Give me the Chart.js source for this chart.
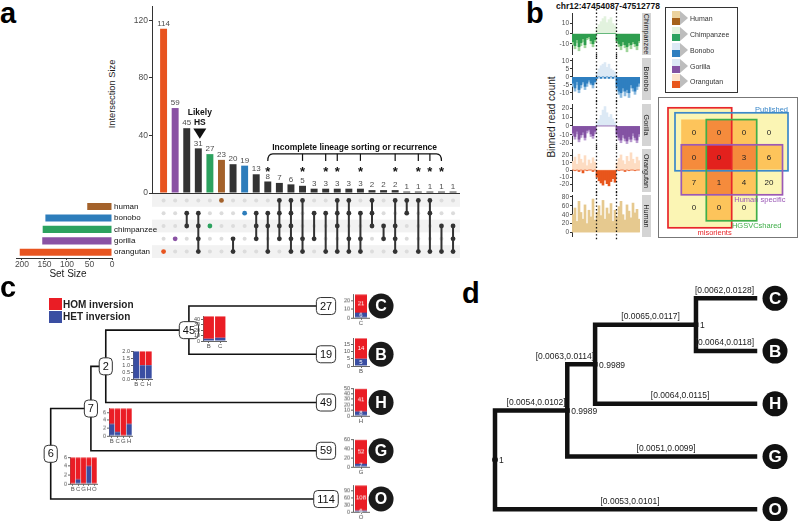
<!DOCTYPE html>
<html><head><meta charset="utf-8">
<script src="https://cdn.jsdelivr.net/npm/chart.js@4.4.1/dist/chart.umd.min.js"></script>
<style>
html,body{margin:0;padding:0;background:#fff;}
#root{position:relative;width:800px;height:521px;overflow:hidden;background:#fff;font-family:'Liberation Sans',Arial,sans-serif;}
#root canvas{position:absolute;}
.t{position:absolute;white-space:nowrap;line-height:1;}
.r{position:absolute;box-sizing:border-box;}
</style></head><body><div id="root"></div>
<script>
// ================= DATA =================
// panel a (UpSet)
const setNames = ['human','bonobo','chimpanzee','gorilla','orangutan'];
const setLetters = ['H','B','C','G','O'];
const setSizes = [55,148,154,155,205];
const intersectionSizes = [114,59,45,31,27,23,20,19,13,8,7,6,5,3,3,3,3,3,2,2,2,1,1,1,1,1];
const intersectionMembers = ['O','G','BC','BCGO','C','H','GO','B','BCG','BCO','HBCG','HBCGO','HGO','BG','BO','HBCO','HBGO','BGO','HBC','CG','HCGO','HB','HO','HBO','CO','CGO'];
const ilsFlags = [0,0,0,0,0,0,0,0,0,1,0,0,1,0,1,1,0,1,0,0,1,0,1,1,1,0];
const likelyHSIndex = 3;
const intersectionTicks = [0,40,80,120];
const setSizeTicks = [0,50,100,150,200];

// panel b tracks (binned read counts)
const trackSpecies = ['Chimpanzee','Bonobo','Gorilla','Orangutan','Human'];
const chimpLight  = [-11,-15,-9,-17,-12,-8,-14,-6,-5,-10,-13,-8, 6,9,12,15,17,11,14,16,10,8, -9,-13,-16,-11,-14,-18,-12,-15,-10,-13,-16,-9];
const chimpDark   = [-8,-12,-6,-13,-9,-5,-11,-4,-3,-7,-10,-6, 0,0,0,0,0,0,0,0,0,0, -7,-10,-12,-8,-11,-13,-9,-11,-8,-10,-12,-7];
const bonoboLight = [-6,-9,-5,-10,-7,-4,-8,-6,-3,-5,-7,-4, 3,5,7,8,9,6,8,5,4,3, -8,-11,-13,-9,-12,-10,-13,-7,-9,-11,-8,-6];
const bonoboDark  = [-4,-7,-3,-8,-5,-3,-6,-4,-2,-4,-5,-3, -1,0,-1,0,-1,0,-1,0,-1,0, -6,-9,-10,-7,-9,-8,-10,-5,-7,-9,-6,-4];
const gorillaLight= [-11,-15,-9,-18,-13,-10,-16,-8,-6,-12,-14,-9, 3,7,12,18,22,15,10,13,8,4, -12,-16,-19,-13,-17,-20,-15,-18,-11,-16,-19,-12];
const gorillaDark = [-8,-12,-6,-15,-10,-7,-13,-5,-4,-9,-11,-6, 0,0,0,0,0,0,0,0,0,0, -9,-13,-16,-10,-14,-17,-12,-15,-8,-13,-16,-9];
const orangLight  = [12,18,8,22,15,10,20,6,14,9,17,11, 0,0,0,0,0,0,0,0,0,0, 10,16,21,13,8,19,12,24,15,9,18,13];
const orangDark   = [0,-1,0,-2,0,-4,0,-1,0,0,-2,0, -10,-15,-18,-21,-14,-19,-22,-16,-12,-17, 0,-1,0,0,-2,0,-1,0,0,-1,0,0];
const humanLight  = [40,55,25,70,45,30,62,20,50,35,75,28, 45,60,38,72,30,55,42,65,25,50, 35,58,70,40,28,62,48,33,66,44,52,30];
const inversionBins = [12,22];
const trackRanges = [[-20.3,19.7],[-14,11.3],[-21.7,23.9],[-29.3,28],[-7.9,82.1]];
const trackTicks = [[-10,0,10],[-10,-5,0,5,10],[-20,-10,0,10,20],[-20,-10,0,10,20],[0,20,40,60,80]];

// panel b heatmap of overlapping call sets
const hmValues = [[0,0,0,0],[0,0,3,6],[7,1,4,20],[0,0,0,null]];
const hmSetNames = ['misorients','Published','HGSVCshared','Human specific'];
const hmSetCols = [[0,1],[0,3],[1,2],[0,3]];
const hmSetRows = [[0,3],[0,1],[0,3],[1,2]];

// panel c tree
const treeLeaves = ['C','B','H','G','O'];
const cLeafCounts = [27,19,49,59,114];
const cLeafHOM = [21,14,41,52,108];
const cLeafHET = [6,5,8,7,6];
const cLeafMax = [27,19,50,60,114];
const cLeafTicks = [[0,10,20],[0,5,10,15],[0,10,20,30,40,50],[0,20,40,60],[0,30,60,90]];
const cNodeNames = ['n45','n2','n7','n6'];
const cNodeChildren = [['C','B'],['n45','H'],['n2','G'],['n7','O']];
const cNodeCounts = [45,2,7,6];
const cNodeDepths = [5.02,2.0,1.46,0];
const cNodeCats = [['B','C'],['B','C','H'],['B','C','G','H'],['B','C','G','H','O']];
const cNodeHET = [[4,6],[2,1,1],[3,1,0,3],[0,1,0,4,0]];
const cNodeHOM = [[41,39],[0,1,1],[4,6,7,4],[6,5,6,2,6]];
const cNodeMax = [45,2,7,6];
const cNodeTicks = [[0,10,20,30,40],[0,0.5,1,1.5,2],[0,2,4,6],[0,2,4,6]];

// panel d tree
const dNodeNames = ['d3','d2','d1','d0'];
const dNodeChildren = [['C','B'],['d3','H'],['d2','G'],['d1','O']];
const dNodeDepths = [7.73,3.85,2.78,0];
const dNodeSupport = ['1','0.9989','0.9989','1'];
const dBranchNames = ['C','B','d3','H','d2','G','d1','O'];
const dBranchCI = ['[0.0062,0.0128]','[0.0064,0.0118]','[0.0065,0.0117]','[0.0064,0.0115]','[0.0063,0.0114]','[0.0051,0.0099]','[0.0054,0.0102]','[0.0053,0.0101]'];

// ================= STYLE / HELPERS =================
const FONT = "'Liberation Sans', Arial, sans-serif";
Chart.defaults.font.family = FONT;
Chart.defaults.plugins.legend.display = false;
Chart.defaults.plugins.tooltip.enabled = false;
Chart.defaults.animation = false;
Chart.defaults.events = [];
const root = document.getElementById('root');
const setColorList = ['#a4622b','#2d7dbb','#2ca25f','#8a52a4','#e8541f'];
const DARK = '#333333';
const RED = '#ea1d25', BLUE = '#3a4ea2';

function mk(left, top, w, h, cfg) {
  const cv = document.createElement('canvas');
  cv.width = w; cv.height = h;
  cv.style.left = left + 'px'; cv.style.top = top + 'px';
  cv.style.width = w + 'px'; cv.style.height = h + 'px';
  root.appendChild(cv);
  cfg.options = cfg.options || {};
  cfg.options.responsive = false;
  cfg.options.maintainAspectRatio = false;
  cfg.options.devicePixelRatio = 1;
  cfg.options.layout = Object.assign({padding: 0}, cfg.options.layout || {}, {autoPadding: false});
  return new Chart(cv, cfg);
}
function T(text, x, y, o) {
  o = o || {};
  const d = document.createElement('div'); d.className = 't'; d.textContent = text;
  d.style.fontSize = (o.size || 10) + 'px';
  if (o.bold) d.style.fontWeight = 'bold';
  d.style.color = o.color || '#1a1a1a';
  d.style.left = x + 'px'; d.style.top = y + 'px';
  const ax = o.align === 'center' ? '-50%' : o.align === 'right' ? '-100%' : '0';
  d.style.transform = o.rot ? `translate(-50%,-50%) rotate(${o.rot}deg)` : `translate(${ax},-50%)`;
  root.appendChild(d); return d;
}
function R(x, y, w, h, css) {
  const d = document.createElement('div'); d.className = 'r';
  d.style.cssText += `left:${x}px;top:${y}px;width:${w}px;height:${h}px;` + (css || '');
  root.appendChild(d); return d;
}
const setTicks = list => s => { s.ticks = list.map(v => ({value: v})); };
const fixW = w => s => { s.width = w; };
const fixH = h => s => { s.height = h; };

// ================= PANEL A =================
const barColors = intersectionMembers.map(m => m.length === 1 ? setColorList[setLetters.indexOf(m)] : DARK);
const XMAX = 26.6;

const upsetAnnot = {id: 'ua', afterDatasetsDraw(ch) {
  const xs = ch.scales.x, ys = ch.scales.y, ctx = ch.ctx, meta = ch.getDatasetMeta(0);
  ctx.save();
  ctx.font = '8px ' + FONT; ctx.fillStyle = '#4d4d4d'; ctx.textAlign = 'center'; ctx.textBaseline = 'bottom';
  meta.data.forEach((b, i) => ctx.fillText(String(intersectionSizes[i]), b.x, b.y - 1));
  const hx = xs.getPixelForValue(likelyHSIndex + 1) + 1.5;
  ctx.fillStyle = '#111'; ctx.font = 'bold 8.5px ' + FONT; ctx.textBaseline = 'middle';
  ctx.fillText('Likely', hx, ys.getPixelForValue(55.6));
  ctx.fillText('HS', hx, ys.getPixelForValue(48.7));
  ctx.beginPath();
  ctx.moveTo(hx - 6.5, ys.getPixelForValue(44.8)); ctx.lineTo(hx + 6.5, ys.getPixelForValue(44.8));
  ctx.lineTo(hx, ys.getPixelForValue(37.7)); ctx.closePath(); ctx.fill();
  const ils = ilsFlags.map((f, i) => f ? i : -1).filter(i => i >= 0);
  const px = ils.map(i => xs.getPixelForValue(i + 1));
  const x0 = px[0], x1 = px[px.length - 1];
  const yb = ys.getPixelForValue(27.2), yd = ys.getPixelForValue(22.3);
  ctx.strokeStyle = '#111'; ctx.lineWidth = 1.2;
  ctx.beginPath(); ctx.moveTo(x0, yd); ctx.quadraticCurveTo(x0, yb, x0 + 5, yb);
  ctx.lineTo(x1 - 5, yb); ctx.quadraticCurveTo(x1, yb, x1, yd); ctx.stroke();
  px.slice(1, -1).forEach(x => { ctx.beginPath(); ctx.moveTo(x, yb); ctx.lineTo(x, yd); ctx.stroke(); });
  ctx.fillText('Incomplete lineage sorting or recurrence', (x0 + x1) / 2, ys.getPixelForValue(31.8));
  ctx.font = 'bold 13px ' + FONT; ctx.textBaseline = 'alphabetic';
  px.forEach(x => ctx.fillText('*', x, ys.getPixelForValue(16.7) + 7.5));
  ctx.restore();
}};

mk(124, 0, 336, 201, {
  type: 'bar',
  data: {datasets: [{data: intersectionSizes.map((v, i) => ({x: i + 1, y: v})), backgroundColor: barColors, categoryPercentage: 1, barPercentage: 0.6}]},
  options: {
    layout: {padding: {top: 1}},
    scales: {
      x: {type: 'linear', min: 0, max: XMAX, offset: false, ticks: {display: false}, grid: {display: false, drawTicks: false}, border: {display: true, color: '#333'}, afterFit: fixH(8)},
      y: {min: 0, max: 129.8, afterBuildTicks: setTicks(intersectionTicks), ticks: {font: {size: 8.5}, color: '#4d4d4d', padding: 1, autoSkip: false},
          grid: {drawOnChartArea: false, tickLength: 3, color: '#333'}, border: {color: '#333'}, afterFit: fixW(28)}
    }
  },
  plugins: [upsetAnnot]
});

// matrix
const memberPts = [], memberCols = [], grayPts = [], linkPts = [];
intersectionMembers.forEach((m, i) => {
  const rows = [];
  setLetters.forEach((L, r) => {
    if (m.includes(L)) { memberPts.push({x: i + 1, y: r}); memberCols.push(m.length === 1 ? setColorList[r] : DARK); rows.push(r); }
    else grayPts.push({x: i + 1, y: r});
  });
  if (rows.length > 1) { linkPts.push({x: i + 1, y: Math.min(...rows)}, {x: i + 1, y: Math.max(...rows)}, {x: i + 1, y: null}); }
});
const stripes = {id: 'st', beforeDatasetsDraw(ch) {
  const ys = ch.scales.y, a = ch.chartArea, ctx = ch.ctx; ctx.save(); ctx.fillStyle = '#f2f2f2';
  setNames.forEach((_, r) => { if (r % 2 === 0) { const y0 = ys.getPixelForValue(r - 0.5), y1 = ys.getPixelForValue(r + 0.5); ctx.fillRect(a.left, Math.min(y0, y1), a.right - a.left, Math.abs(y1 - y0)); } });
  ctx.restore();
}};
mk(152, 194, 308, 64, {
  type: 'scatter',
  data: {datasets: [
    {data: memberPts, pointBackgroundColor: memberCols, pointBorderWidth: 0, pointRadius: 2.4, clip: false},
    {data: linkPts, showLine: true, spanGaps: false, borderColor: DARK, borderWidth: 2, pointRadius: 0, clip: false},
    {data: grayPts, pointBackgroundColor: '#dcdcdc', pointBorderWidth: 0, pointRadius: 2, clip: false}
  ]},
  options: {scales: {x: {type: 'linear', min: 0, max: XMAX, display: false}, y: {type: 'linear', min: -0.5, max: 4.5, reverse: true, display: false}}},
  plugins: [stripes]
});

// set size
mk(8, 194, 160, 80, {
  type: 'bar',
  data: {labels: setNames, datasets: [{data: setSizes, backgroundColor: setColorList, categoryPercentage: 1, barPercentage: 0.62}]},
  options: {
    indexAxis: 'y',
    layout: {padding: {left: 8}},
    scales: {
      x: {min: 0, max: 213.3, reverse: true, afterBuildTicks: setTicks(setSizeTicks), ticks: {font: {size: 8.5}, color: '#4d4d4d', padding: 0, maxRotation: 0, autoSkip: false},
          grid: {drawOnChartArea: false, tickLength: 2, color: '#333'}, border: {color: '#333'}, afterFit: fixH(16)},
      y: {position: 'right', ticks: {font: {size: 8}, color: '#111', padding: 2, autoSkip: false}, grid: {display: false, drawTicks: false}, border: {display: false}, afterFit: fixW(56)}
    }
  }
});

T('a', 0, 13, {size: 29, bold: true, color: '#000'});
T('Intersection Size', 113, 94, {size: 9.3, rot: -90});
T('Set Size', 68, 273.5, {size: 10, align: 'center'});

// ================= PANEL B =================
T('b', 526, 13, {size: 29, bold: true, color: '#000'});
T('chr12:47454087-47512778', 608, 6, {size: 8.5, bold: true, align: 'center', color: '#111'});
T('Binned read count', 552, 117, {size: 10, rot: -90});

const trackRects = [[13,55],[58,100],[104,146],[149,192],[195,237]];
const trackLightData = [chimpLight, bonoboLight, gorillaLight, orangLight, humanLight];
const trackDarkData = [chimpDark, bonoboDark, gorillaDark, orangDark, null];
const trackFlankCol = ['#9fd59a','#8dbbe0','#b99ad0','#fddcc2','#e6c98f'];
const trackMidCol = ['#e2f2de','#dce9f5','#dce9f5','#fddcc2','#e6c98f'];
const trackDarkCol = ['#2f9e4f','#2f7fc0','#8453a3','#e8561c','#a6611a'];
const dotted = {id: 'dot', afterDatasetsDraw(ch) {
  const xs = ch.scales.x, ctx = ch.ctx; ctx.save(); ctx.setLineDash([1.4, 2.2]); ctx.lineWidth = 1.3; ctx.strokeStyle = '#111';
  inversionBins.forEach(b => { const x = Math.round((xs.getPixelForValue(b - 1) + xs.getPixelForValue(b)) / 2) + 0.5; ctx.beginPath(); ctx.moveTo(x, 0); ctx.lineTo(x, ch.height); ctx.stroke(); });
  ctx.restore();
}};
trackSpecies.forEach((sp, k) => {
  const [t, b] = trackRects[k];
  const light = trackLightData[k];
  const bins = light.map((_, i) => i);
  const lightCols = bins.map(i => (i >= inversionBins[0] && i < inversionBins[1]) ? trackMidCol[k] : trackFlankCol[k]);
  const ds = [];
  if (trackDarkData[k]) ds.push({data: trackDarkData[k], backgroundColor: trackDarkCol[k], grouped: false, categoryPercentage: 1, barPercentage: 1});
  ds.push({data: light, backgroundColor: lightCols, grouped: false, categoryPercentage: 1, barPercentage: 1});
  mk(556, t - 4, 84, b - t + 8, {
    type: 'bar', data: {labels: bins, datasets: ds},
    options: {
      layout: {padding: {top: 4, bottom: 4}},
      scales: {
        x: {display: false},
        y: {min: trackRanges[k][0], max: trackRanges[k][1], afterBuildTicks: setTicks(trackTicks[k]),
            ticks: {font: {size: 6.5}, color: '#4d4d4d', padding: 1, autoSkip: false}, grid: {drawOnChartArea: false, tickLength: 2, color: '#333'},
            border: {color: '#333'}, afterFit: fixW(16)}
      }
    },
    plugins: [dotted]
  });
  R(641.5, t, 9, b - t, 'background:#d4d4d4;');
  T(sp, 646, (t + b) / 2, {size: 7.2, rot: 90, color: '#222'});
});

// legend of panel b
const legNames = ['Human','Chimpanzee','Bonobo','Gorilla','Orangutan'];
const legLight = ['#ecd39e','#e3f2de','#dce9f5','#dce9f5','#fde3cc'];
const legDark = ['#a6611a','#2ca25f','#2f7fc0','#8453a3','#e8561c'];
R(665, 7, 73, 86, 'border:1px solid #333;background:#fff;');
legNames.forEach((n, i) => {
  const c = 18.3 + 15.75 * i;
  R(672, c - 7, 8, 7, 'background:' + legLight[i] + ';');
  R(672, c, 8, 7, 'background:' + legDark[i] + ';');
  R(680, c - 7, 0, 0, 'border-left:8px solid #bdbdbd;border-top:7px solid transparent;border-bottom:7px solid transparent;');
  T(n, 690, c, {size: 7, color: '#333'});
});

// heatmap
R(658, 97, 140, 141, 'border:1px solid #777;');
const hmLevelColors = ['#ffffff','#fbf5b4','#fdc45b','#f58b3c','#e3211d'];
const hmSetColors = ['#e8262b','#3b88c9','#3fae49','#9b59b6'];
const hmPads = [[13.5,0.2,12,8],[6.5,6.5,7,1],[0.2,0.2,0.2,1],[0.2,1,0,0]];
const hmLabelAlign = ['right','right','center','right'];
const hmLabelSide = ['below','above','below','below'];
const hmLabelDx = [0,0,0,3];
const hmCells = [], hmCellColors = [];
hmValues.forEach((row, r) => row.forEach((v, c) => {
  const n = hmSetNames.reduce((a, _, k) => a + ((c >= hmSetCols[k][0] && c <= hmSetCols[k][1] && r >= hmSetRows[k][0] && r <= hmSetRows[k][1]) ? 1 : 0), 0);
  if (v !== null && n > 0) { hmCells.push({x: c, y: [r - 0.5, r + 0.5]}); hmCellColors.push(hmLevelColors[n]); }
}));
function hmRect(xs, ys, k) {
  const c = hmSetCols[k], r = hmSetRows[k], p = hmPads[k];
  return {x0: xs.getPixelForValue(c[0] - 0.5) - p[0], x1: xs.getPixelForValue(c[1] + 0.5) + p[1],
          y0: ys.getPixelForValue(r[0] - 0.5) - p[2], y1: ys.getPixelForValue(r[1] + 0.5) + p[3]};
}
const hmPlugin = {id: 'hm',
  beforeDatasetsDraw(ch) {
    const ctx = ch.ctx; ctx.save(); ctx.fillStyle = hmLevelColors[1];
    hmSetNames.forEach((_, k) => { const q = hmRect(ch.scales.x, ch.scales.y, k); ctx.fillRect(q.x0, q.y0, q.x1 - q.x0, q.y1 - q.y0); });
    ctx.restore();
  },
  afterDatasetsDraw(ch) {
    const xs = ch.scales.x, ys = ch.scales.y, ctx = ch.ctx; ctx.save();
    ctx.font = '8px ' + FONT; ctx.fillStyle = '#222'; ctx.textAlign = 'center'; ctx.textBaseline = 'middle';
    hmValues.forEach((row, r) => row.forEach((v, c) => { if (v !== null) ctx.fillText(String(v), xs.getPixelForValue(c), ys.getPixelForValue(r) + 0.5); }));
    ctx.lineWidth = 1.7;
    hmSetNames.forEach((name, k) => {
      const q = hmRect(xs, ys, k);
      ctx.strokeStyle = hmSetColors[k]; ctx.strokeRect(q.x0, q.y0, q.x1 - q.x0, q.y1 - q.y0);
      ctx.fillStyle = hmSetColors[k]; ctx.font = '7.5px ' + FONT; ctx.textAlign = hmLabelAlign[k];
      if (hmLabelSide[k] === 'above') { ctx.textBaseline = 'alphabetic'; ctx.fillText(name, q.x1 + hmLabelDx[k], q.y0 - 0.5); }
      else { ctx.textBaseline = 'top'; ctx.fillText(name, q.x1 + hmLabelDx[k], q.y1 + 1); }
    });
    ctx.restore();
  }
};
mk(660, 99, 136, 137, {
  type: 'bar',
  data: {datasets: [{data: hmCells, backgroundColor: hmCellColors, categoryPercentage: 1, barPercentage: 1, borderWidth: 0}]},
  options: {scales: {x: {type: 'linear', min: -1.36, max: 4.08, offset: false, display: false}, y: {type: 'linear', min: -1.332, max: 4.148, reverse: true, display: false}}},
  plugins: [hmPlugin]
});

// ================= TREES =================
function layoutTree(leafDepth, names, children, depths) {
  const pos = {};
  treeLeaves.forEach((n, i) => pos[n] = {x: leafDepth, y: i});
  names.forEach((n, i) => { const ch = children[i]; pos[n] = {x: depths[i], y: ch.reduce((a, c) => a + pos[c].y, 0) / ch.length}; });
  return pos;
}
function branchSets(pos, names, children, width, cap) {
  const ds = [];
  names.forEach((n, i) => children[i].forEach(c => {
    ds.push({data: [{x: pos[n].x, y: pos[n].y}, {x: pos[n].x, y: pos[c].y}, {x: pos[c].x, y: pos[c].y}],
      showLine: true, borderColor: '#111', borderWidth: width, pointRadius: 0, clip: false, borderJoinStyle: 'miter', borderCapStyle: cap});
  }));
  return ds;
}
function roundBox(ctx, cx, cy, text) {
  ctx.font = '11px ' + FONT; const w = ctx.measureText(text).width + 7, h = 17;
  ctx.beginPath(); ctx.roundRect(cx - w / 2, cy - h / 2, w, h, 4);
  ctx.fillStyle = '#fff'; ctx.fill(); ctx.lineWidth = 1; ctx.strokeStyle = '#333'; ctx.stroke();
  ctx.fillStyle = '#111'; ctx.textAlign = 'center'; ctx.textBaseline = 'middle'; ctx.fillText(text, cx, cy + 0.5);
}

// ---- panel c ----
T('c', 0, 287, {size: 29, bold: true, color: '#000'});
R(49, 298, 13, 12, 'background:' + RED + ';');
R(49, 311, 13, 12, 'background:' + BLUE + ';');
T('HOM inversion', 63, 304.5, {size: 10, bold: true, color: '#222'});
T('HET inversion', 63, 316.5, {size: 10, bold: true, color: '#222'});

const cPos = layoutTree(10, cNodeNames, cNodeChildren, cNodeDepths);
const cCircleX = 12;
const treeCPlugin = {id: 'tc', afterDatasetsDraw(ch) {
  const xs = ch.scales.x, ys = ch.scales.y, ctx = ch.ctx; ctx.save();
  cNodeNames.forEach((n, i) => roundBox(ctx, xs.getPixelForValue(cPos[n].x), ys.getPixelForValue(cPos[n].y), String(cNodeCounts[i])));
  treeLeaves.forEach((n, i) => roundBox(ctx, xs.getPixelForValue(cPos[n].x), ys.getPixelForValue(cPos[n].y), String(cLeafCounts[i])));
  ctx.font = 'bold 16px ' + FONT; ctx.fillStyle = '#fff'; ctx.textAlign = 'center'; ctx.textBaseline = 'middle';
  treeLeaves.forEach((n, i) => ctx.fillText(n, xs.getPixelForValue(cCircleX), ys.getPixelForValue(cPos[n].y) + 1));
  ctx.restore();
}};
mk(40, 290, 360, 225, {
  type: 'scatter',
  data: {datasets: [{data: treeLeaves.map(n => ({x: cCircleX, y: cPos[n].y})), pointRadius: 12.5, pointBackgroundColor: '#1a1a1a', pointBorderWidth: 0, clip: false}]
    .concat(branchSets(cPos, cNodeNames, cNodeChildren, 1.6, 'butt'))},
  options: {scales: {x: {type: 'linear', min: -0.389, max: 12.688, display: false}, y: {type: 'linear', min: -0.332, max: 4.331, reverse: true, display: false}}},
  plugins: [treeCPlugin]
});

const innerLabels = {id: 'inner', afterDatasetsDraw(ch) {
  const ctx = ch.ctx; ctx.save(); ctx.font = '6px ' + FONT; ctx.fillStyle = '#fff'; ctx.textAlign = 'center'; ctx.textBaseline = 'middle';
  ch.data.datasets.forEach((ds, di) => ch.getDatasetMeta(di).data.forEach((el, i) => { const v = ds.data[i]; if (v) ctx.fillText(String(v), el.x, (el.y + el.base) / 2); }));
  ctx.restore();
}};
function mini(x0, x1, y0, y1, cats, het, hom, max, ticks, dec, inner, catPct) {
  const W = 18, H = 9, PT = 4;
  mk(x0 - W, y0 - PT, x1 - x0 + W + 1, y1 - y0 + PT + H, {
    type: 'bar',
    data: {labels: cats, datasets: [
      {data: het, backgroundColor: BLUE, categoryPercentage: catPct, barPercentage: 1},
      {data: hom, backgroundColor: RED, categoryPercentage: catPct, barPercentage: 1}]},
    options: {
      layout: {padding: {top: PT, right: 1}},
      scales: {
        x: {stacked: true, ticks: {font: {size: 6}, color: '#4d4d4d', padding: 0, maxRotation: 0, autoSkip: false},
            grid: {drawOnChartArea: false, tickLength: 2, color: '#666', offset: false}, border: {color: '#666'}, afterFit: fixH(H)},
        y: {stacked: true, min: 0, max: max, afterBuildTicks: setTicks(ticks),
            ticks: {font: {size: 5.5}, color: '#4d4d4d', padding: 1, autoSkip: false, callback: v => dec ? Number(v).toFixed(1) : v},
            grid: {drawOnChartArea: false, tickLength: 2, color: '#666'}, border: {color: '#666'}, afterFit: fixW(W)}
      }
    },
    plugins: inner ? [innerLabels] : []
  });
}
const leafMiniY = [[294,317.7],[338,366],[388.3,415.7],[439.3,466.7],[485,511.7]];
treeLeaves.forEach((n, i) => mini(353, 369, leafMiniY[i][0], leafMiniY[i][1], [n], [cLeafHET[i]], [cLeafHOM[i]], cLeafMax[i], cLeafTicks[i], false, true, 0.75));
const nodeMiniRect = [[203,226,315.5,341],[133,152,351,379],[109,132,408.4,435.7],[70,97,457.3,483.7]];
cNodeNames.forEach((n, i) => { const q = nodeMiniRect[i]; mini(q[0], q[1], q[2], q[3], cNodeCats[i], cNodeHET[i], cNodeHOM[i], cNodeMax[i], cNodeTicks[i], i === 1, false, 0.9); });

// ---- panel d ----
T('d', 462, 293, {size: 29, bold: true, color: '#000'});
const dPos = layoutTree(10, dNodeNames, dNodeChildren, dNodeDepths);
const dCircleX = 10.77;
const dParent = {};
dNodeNames.forEach((n, i) => dNodeChildren[i].forEach(c => dParent[c] = n));
const treeDPlugin = {id: 'td', afterDatasetsDraw(ch) {
  const xs = ch.scales.x, ys = ch.scales.y, ctx = ch.ctx; ctx.save();
  ctx.font = '8.5px ' + FONT; ctx.fillStyle = '#222'; ctx.textBaseline = 'middle';
  dBranchNames.forEach((c, i) => {
    const p = dParent[c];
    const px = xs.getPixelForValue(dPos[p].x), cx = xs.getPixelForValue(dPos[c].x), cy = ys.getPixelForValue(dPos[c].y);
    const w = ctx.measureText(dBranchCI[i]).width;
    if (cx - px > w + 6) { ctx.textAlign = 'center'; ctx.fillText(dBranchCI[i], (px + cx) / 2 + 5, cy - 8); }
    else { ctx.textAlign = 'right'; ctx.fillText(dBranchCI[i], cx - 1, cy - 8); }
  });
  ctx.textAlign = 'left';
  dNodeNames.forEach((n, i) => ctx.fillText(dNodeSupport[i], xs.getPixelForValue(dPos[n].x) + 4, ys.getPixelForValue(dPos[n].y) + 1));
  ctx.font = 'bold 17px ' + FONT; ctx.fillStyle = '#fff'; ctx.textAlign = 'center';
  treeLeaves.forEach(n => ctx.fillText(n, xs.getPixelForValue(dCircleX), ys.getPixelForValue(dPos[n].y) + 1));
  ctx.restore();
}};
mk(480, 285, 320, 236, {
  type: 'scatter',
  data: {datasets: [
    {data: treeLeaves.map(n => ({x: dCircleX, y: dPos[n].y})), pointRadius: 12.5, pointBackgroundColor: '#111', pointBorderWidth: 0, clip: false},
    {data: [{x: dPos.d0.x, y: dPos.d0.y}], pointRadius: 2.8, pointBackgroundColor: '#111', pointBorderWidth: 0, clip: false}
  ].concat(branchSets(dPos, dNodeNames, dNodeChildren, 4.5, 'square'))},
  options: {scales: {x: {type: 'linear', min: -0.577, max: 11.731, display: false}, y: {type: 'linear', min: -0.252, max: 4.222, reverse: true, display: false}}},
  plugins: [treeDPlugin]
});
</script></body></html>
